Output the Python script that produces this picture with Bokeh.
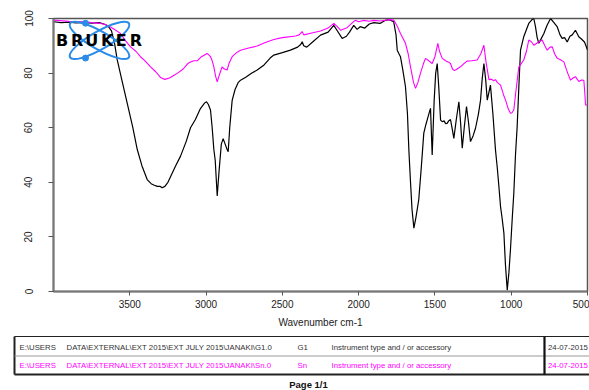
from bokeh.plotting import figure
from bokeh.models import Range1d, FixedTicker
from bokeh.layouts import column
from bokeh.embed import file_html
from bokeh.resources import INLINE
from bokeh.core.properties import value

# ---------------- data ----------------
g1_wn = [4000, 3950, 3900, 3850, 3800, 3750, 3700, 3660, 3640, 3620, 3600, 3583, 3550, 3517, 3480,
         3451, 3420, 3386, 3360, 3343, 3320, 3300, 3288, 3270, 3250, 3233, 3200, 3168, 3130, 3102,
         3070, 3037, 3010, 2997, 2985, 2971, 2960, 2949, 2940, 2927, 2915, 2900, 2888, 2875, 2862,
         2855, 2845, 2829, 2810, 2790, 2774, 2740, 2700, 2665, 2620, 2580, 2556, 2500, 2447, 2400,
         2380, 2370, 2360, 2340, 2300, 2250, 2200, 2163, 2140, 2108, 2080, 2060, 2032, 2010, 1990,
         1960, 1930, 1900, 1860, 1830, 1800, 1770, 1755, 1747, 1735, 1726, 1710, 1693, 1680, 1671,
         1660, 1650, 1638, 1625, 1606, 1590, 1573, 1560, 1551, 1535, 1529, 1518, 1505, 1495, 1485,
         1475, 1463, 1452, 1440, 1430, 1420, 1410, 1398, 1385, 1376, 1360, 1343, 1332, 1321, 1308,
         1293, 1280, 1267, 1250, 1234, 1215, 1201, 1190, 1179, 1168, 1157, 1146, 1136, 1120, 1103,
         1092, 1080, 1070, 1060, 1048, 1038, 1026, 1015, 1005, 993, 983, 972, 961, 950, 939,
         928, 918, 900, 885, 865, 852, 841, 830, 819, 800, 786, 765, 742, 720, 698,
         680, 666, 650, 633, 615, 600, 579, 557, 540, 520, 510, 500]
g1_t = [98.8, 98.5, 98.7, 98.4, 98.6, 98.3, 98.5, 97.8, 97.0, 95.5, 91.0, 85.0, 77.0, 69.0, 60.0,
        52.0, 46.0, 41.0, 39.5, 39.0, 38.5, 38.5, 38.0, 38.5, 40.0, 42.0, 46.0, 49.5, 55.0, 60.0,
        63.0, 67.0, 69.0, 69.5, 68.5, 66.5, 60.0, 52.0, 48.0, 35.0, 44.0, 54.0, 56.0, 54.0, 52.0,
        51.2, 60.0, 70.0, 74.0, 76.5, 77.4, 78.5, 80.0, 81.1, 83.0, 85.5, 86.6, 87.5, 88.4, 89.5,
        90.5, 91.5, 90.0, 89.5, 91.5, 93.9, 95.0, 97.5, 95.5, 92.7, 93.5, 95.0, 97.5, 96.0, 97.0,
        96.5, 98.0, 98.5, 98.2, 99.2, 99.6, 98.8, 94.0, 88.4, 87.0, 86.0, 81.0, 75.0, 65.0, 52.0,
        40.0, 30.0, 23.2, 27.0, 33.6, 45.0, 58.0, 61.0, 62.8, 66.0, 67.1, 50.0, 70.0, 80.0, 83.5,
        75.0, 62.8, 62.2, 62.5, 61.5, 61.6, 62.5, 63.0, 59.0, 56.1, 63.0, 69.5, 62.0, 52.5, 60.0,
        67.7, 62.0, 54.9, 57.0, 59.8, 65.0, 70.1, 78.0, 83.5, 78.0, 70.1, 73.0, 75.6, 65.0, 51.8,
        45.7, 38.0, 31.1, 27.0, 21.4, 10.0, 0.5, 7.0, 15.3, 27.0, 36.0, 50.0, 60.4, 75.0, 88.4,
        91.0, 93.3, 96.0, 98.2, 99.5, 100.0, 97.0, 93.0, 90.9, 93.0, 94.5, 97.5, 100.0, 98.5, 96.9,
        94.0, 92.7, 93.0, 91.4, 93.5, 94.0, 95.7, 93.3, 92.5, 91.4, 90.0, 88.4]

sn_wn = [4000, 3900, 3801, 3750, 3692, 3660, 3626, 3600, 3561, 3530, 3495, 3460, 3430, 3400, 3364,
         3330, 3300, 3288, 3270, 3240, 3210, 3189, 3150, 3120, 3102, 3080, 3058, 3030, 2993, 2971,
         2960, 2949, 2938, 2927, 2915, 2906, 2895, 2880, 2862, 2850, 2829, 2800, 2774, 2720, 2665,
         2620, 2556, 2500, 2414, 2390, 2370, 2360, 2300, 2250, 2200, 2163, 2140, 2119, 2080, 2040,
         2021, 2000, 1970, 1930, 1900, 1857, 1800, 1770, 1745, 1726, 1693, 1675, 1660, 1640, 1627,
         1612, 1595, 1575, 1562, 1540, 1518, 1500, 1481, 1470, 1452, 1430, 1410, 1398, 1385, 1372,
         1355, 1333, 1310, 1289, 1260, 1223, 1200, 1179, 1165, 1146, 1130, 1115, 1103, 1090, 1070,
         1050, 1037, 1020, 1005, 995, 983, 970, 950, 939, 918, 900, 885, 868, 852, 830,
         797, 780, 764, 745, 731, 715, 698, 680, 655, 630, 611, 595, 579, 557, 540,
         524, 518, 513, 500]
sn_t = [99.4, 99.0, 98.8, 98.5, 98.2, 97.8, 96.9, 96.0, 94.5, 92.0, 89.6, 88.0, 86.0, 84.5, 82.3,
        80.5, 78.5, 78.1, 77.7, 78.2, 79.2, 79.9, 81.5, 83.5, 84.1, 84.5, 84.5, 86.0, 87.2, 86.0,
        84.5, 82.3, 79.0, 76.8, 79.0, 80.5, 82.3, 81.5, 81.1, 83.5, 86.0, 87.5, 88.4, 89.2, 89.9,
        91.0, 92.3, 93.0, 93.6, 94.0, 95.2, 94.0, 94.8, 95.4, 96.5, 98.2, 97.0, 95.7, 96.5, 98.5,
        99.4, 98.8, 99.3, 99.0, 99.3, 99.1, 99.6, 99.4, 97.0, 94.5, 90.9, 87.0, 82.3, 76.5, 74.4,
        76.5, 79.9, 83.5, 85.4, 84.5, 83.5, 86.0, 90.9, 88.0, 85.4, 84.5, 84.0, 83.5, 81.5, 80.9,
        81.5, 82.3, 83.5, 84.4, 84.5, 84.8, 87.0, 90.2, 84.0, 77.6, 77.8, 77.2, 77.6, 76.5, 75.6,
        72.0, 70.1, 67.0, 65.3, 65.5, 66.5, 73.0, 82.3, 83.1, 84.8, 88.0, 92.1, 91.5, 90.2, 91.0,
        92.1, 90.0, 88.4, 89.5, 89.6, 87.0, 85.4, 85.0, 84.1, 80.0, 77.4, 78.2, 78.7, 76.9, 77.5,
        77.4, 73.0, 68.3, 68.3]

x_ticks = [3500, 3000, 2500, 2000, 1500, 1000, 500]
y_ticks = [0, 20, 40, 60, 80, 100]

row_paths = ["E:\\USERS", "E:\\USERS"]
row_paths2 = ["DATA\\EXTERNAL\\EXT 2015\\EXT JULY 2015\\JANAKI\\G1.0",
              "DATA\\EXTERNAL\\EXT 2015\\EXT JULY 2015\\JANAKI\\Sn.0"]
row_names = ["G1", "Sn"]
row_instr = ["Instrument type and / or accessory", "Instrument type and / or accessory"]
row_dates = ["24-07-2015", "24-07-2015"]
row_colors = ["#333333", "#FF00FF"]

FONT = "Liberation Sans"

# ---------------- main plot ----------------
W = 589
p = figure(width=W, height=330, x_range=Range1d(4000, 500), y_range=Range1d(0, 100),
           toolbar_location=None, output_backend="svg",
           min_border_left=53, min_border_right=2, min_border_top=18, min_border_bottom=38)
p.frame_align = False
p.grid.visible = False
p.outline_line_color = "#555555"
p.outline_line_width = 1.5

p.line(g1_wn, g1_t, line_color="black", line_width=1.2)
p.line(sn_wn, sn_t, line_color="#FF00FF", line_width=1.1)

# Bruker logo (pixel-placed decoration converted to data coords)
def px2w(px):
    return 4000 - (px - 53) * 3500 / 534.0

def py2v(py):
    return (292 - py) * 100 / 274.0

blue = "#2a8ce8"
p.ellipse(x=[px2w(99), px2w(99)], y=[py2v(40), py2v(40)], width=68, height=18,
          angle=[0.52, -0.52], width_units="screen", height_units="screen",
          fill_alpha=0, line_color=blue, line_width=2)
p.scatter(x=[px2w(85), px2w(85)], y=[py2v(22.7), py2v(57.7)], size=6,
          color=blue)
letters = list("BRUKER")
letter_px = [61.5, 76.7, 91.3, 106.7, 120.8, 135.5]
p.text(x=[px2w(v) for v in letter_px], y=[py2v(40.5)] * 6, text=letters,
       text_font=value("DejaVu Sans"), text_font_style="bold", text_font_size="16px",
       text_align="center", text_baseline="middle", text_color="black")

xa = p.xaxis[0]
xa.ticker = FixedTicker(ticks=x_ticks)
xa.minor_tick_line_color = None
xa.major_tick_in = 0
xa.major_tick_out = 4
xa.axis_line_color = "#777777"
xa.axis_line_width = 2
xa.major_tick_line_color = "#555555"
xa.major_label_text_font = FONT
xa.major_label_text_font_size = "10px"
xa.major_label_text_color = "#222222"
xa.major_label_standoff = 4
xa.axis_label = "Wavenumber cm-1"
xa.axis_label_text_font = FONT
xa.axis_label_text_font_size = "10px"
xa.axis_label_text_font_style = "normal"
xa.axis_label_text_color = "#222222"
xa.axis_label_standoff = 6

ya = p.yaxis[0]
ya.ticker = FixedTicker(ticks=y_ticks)
ya.minor_tick_line_color = None
ya.major_tick_in = 0
ya.major_tick_out = 5
ya.axis_line_color = "#777777"
ya.axis_line_width = 2
ya.major_tick_line_color = "#555555"
ya.major_label_text_font = FONT
ya.major_label_text_font_size = "10px"
ya.major_label_text_color = "#222222"
ya.major_label_orientation = "vertical"
ya.major_label_standoff = 16

# ---------------- table below ----------------
TH = 60
t = figure(width=W, height=TH, x_range=Range1d(0, W), y_range=Range1d(TH, 0),
           toolbar_location=None, output_backend="svg", min_border=0,
           x_axis_type=None, y_axis_type=None)
t.frame_align = False
t.grid.visible = False
t.outline_line_color = None

# box
t.line([14, W + 5], [6, 6], line_color="#222222", line_width=1.2)
t.line([14, W + 5], [44, 44], line_color="#222222", line_width=2)
t.line([14, 14], [6, 44], line_color="#222222", line_width=2)
t.line([14, W + 5], [25.5, 25.5], line_color="#999999", line_width=1)
t.line([544, 544], [6, 44], line_color="#111111", line_width=2.2)

row_y = [16.7, 35.3]
t.text(x=[19, 19], y=row_y, text=row_paths, text_color=row_colors,
       text_font=value(FONT), text_font_size="7.8px", text_baseline="middle")
t.text(x=[66, 66], y=row_y, text=row_paths2, text_color=row_colors,
       text_font=value(FONT), text_font_size="7.8px", text_baseline="middle")
t.text(x=[297, 297], y=row_y, text=row_names, text_color=row_colors,
       text_font=value(FONT), text_font_size="7.8px", text_baseline="middle")
t.text(x=[331, 331], y=row_y, text=row_instr, text_color=row_colors,
       text_font=value(FONT), text_font_size="7.8px", text_baseline="middle")
t.text(x=[547.5, 547.5], y=row_y, text=row_dates, text_color=row_colors,
       text_font=value(FONT), text_font_size="7.8px", text_baseline="middle")
t.text(x=[308], y=[54], text=["Page 1/1"], text_color="#111111",
       text_font=value(FONT), text_font_size="9.5px", text_font_style="bold",
       text_align="center", text_baseline="middle")

layout = column(p, t, spacing=0)
open("out.html", "w").write(file_html(layout, INLINE))
